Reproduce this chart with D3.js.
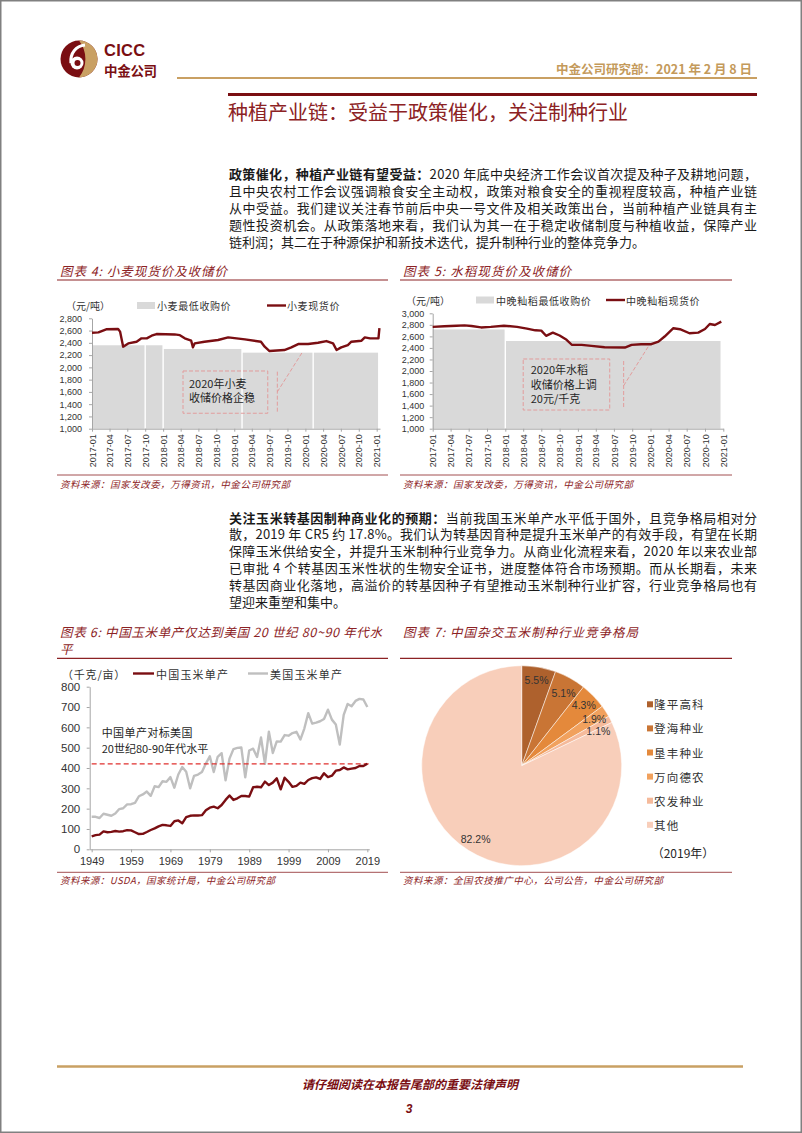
<!DOCTYPE html>
<html><head><meta charset="utf-8">
<script src="https://cdn.jsdelivr.net/npm/d3@7"></script>
<style>html,body{margin:0;padding:0;background:#fff;}svg{display:block;}</style>
</head><body>
<svg id="page" width="802" height="1133"></svg>
<script>
// ---------------- DATA ----------------
const quarterTicks = ["2017-01","2017-04","2017-07","2017-10","2018-01","2018-04","2018-07","2018-10","2019-01","2019-04","2019-07","2019-10","2020-01","2020-04","2020-07","2020-10","2021-01"];
const wheatYTicks = [1000,1200,1400,1600,1800,2000,2200,2400,2600,2800];
const riceYTicks = [1000,1200,1400,1600,1800,2000,2200,2400,2600,2800,3000];

const wheatDates = ["2017-01-01","2017-02-03","2017-03-15","2017-05-15","2017-05-25","2017-06-10","2017-07-06","2017-08-18","2017-09-12","2017-10-09","2017-11-03","2017-11-28","2018-03-01","2018-03-28","2018-04-22","2018-05-25","2018-06-03","2018-06-12","2018-08-01","2018-10-10","2018-12-01","2019-02-25","2019-05-18","2019-06-06","2019-07-01","2019-09-15","2019-10-21","2019-11-25","2020-01-15","2020-03-06","2020-04-18","2020-05-22","2020-06-09","2020-07-03","2020-08-06","2020-08-24","2020-10-15","2020-11-01","2020-11-28","2021-01-10","2021-01-15"];
const wheatSpot = [2565,2570,2621,2626,2583,2337,2391,2418,2473,2473,2516,2543,2537,2525,2473,2435,2326,2391,2418,2446,2489,2456,2418,2337,2266,2283,2326,2380,2380,2402,2429,2391,2283,2326,2364,2418,2435,2489,2473,2473,2640];
const wheatMinStart = ["2017-01-01","2017-10-01","2018-01-01","2019-02-10","2020-02-10"];
const wheatMinEnd   = ["2017-10-01","2018-01-01","2019-02-10","2020-02-10","2021-01-08"];
const wheatMinValue = [2360,2360,2300,2240,2240];

const riceDates = ["2017-01-01","2017-03-01","2017-05-01","2017-06-10","2017-07-15","2017-09-01","2017-10-20","2017-12-25","2018-03-01","2018-04-20","2018-06-01","2018-07-01","2018-07-25","2018-08-28","2018-10-01","2018-11-05","2018-12-01","2019-01-20","2019-03-10","2019-05-15","2019-08-25","2019-09-28","2019-11-15","2020-01-05","2020-02-10","2020-03-12","2020-04-25","2020-05-28","2020-07-15","2020-08-28","2020-10-01","2020-10-25","2020-11-20","2020-12-22"];
const riceSpot = [2765,2775,2785,2790,2780,2755,2765,2785,2765,2735,2705,2700,2610,2665,2615,2540,2455,2452,2435,2412,2406,2452,2464,2464,2510,2597,2741,2724,2654,2666,2728,2815,2797,2855];
const riceMinStart = ["2017-01-01","2018-01-01"];
const riceMinEnd   = ["2018-01-01","2020-12-18"];
const riceMinValue = [2720,2520];

const cornYears = [1949,1950,1951,1952,1953,1954,1955,1956,1957,1958,1959,1960,1961,1962,1963,1964,1965,1966,1967,1968,1969,1970,1971,1972,1973,1974,1975,1976,1977,1978,1979,1980,1981,1982,1983,1984,1985,1986,1987,1988,1989,1990,1991,1992,1993,1994,1995,1996,1997,1998,1999,2000,2001,2002,2003,2004,2005,2006,2007,2008,2009,2010,2011,2012,2013,2014,2015,2016,2017,2018,2019];
const chinaYield = [64,70,72,88,84,86,90,87,89,94,93,84,75,76,85,95,103,113,120,118,115,138,142,128,158,165,167,166,168,192,205,210,202,218,243,265,243,251,262,262,259,305,308,305,333,316,328,349,295,352,332,307,312,328,322,341,350,354,346,374,355,362,387,390,403,393,397,400,410,410,421];
const usYield = [160,160,154,175,170,165,176,198,202,221,222,229,261,270,284,263,310,306,335,332,355,303,368,405,382,300,361,368,380,422,458,380,455,473,339,446,493,499,501,354,486,495,454,550,421,579,474,531,530,562,559,572,578,540,594,670,618,623,630,641,687,638,614,515,661,715,704,730,740,737,700];
const cornXTicks = [1949,1959,1969,1979,1989,1999,2009,2019];
const cornYTicks = [0,100,200,300,400,500,600,700,800];
const benchmarkYield = 420;

const pieLabels = ["隆平高科","登海种业","垦丰种业","万向德农","农发种业","其他"];
const pieValues = [5.5,5.1,4.3,1.9,1.1,82.2];
const pieColors = ["#AE612D","#C97535","#E4893B","#F1A15D","#F5BA9B","#F8CEBA"];

const para1Lead = "政策催化，种植产业链有望受益：";
const para1 = ["2020 年底中央经济工作会议首次提及种子及耕地问题，",
 "且中央农村工作会议强调粮食安全主动权，政策对粮食安全的重视程度较高，种植产业链",
 "从中受益。我们建议关注春节前后中央一号文件及相关政策出台，当前种植产业链具有主",
 "题性投资机会。从政策落地来看，我们认为其一在于稳定收储制度与种植收益，保障产业",
 "链利润；其二在于种源保护和新技术迭代，提升制种行业的整体竞争力。"];
const para2Lead = "关注玉米转基因制种商业化的预期：";
const para2 = ["当前我国玉米单产水平低于国外，且竞争格局相对分",
 "散，2019 年 CR5 约 17.8%。我们认为转基因育种是提升玉米单产的有效手段，有望在长期",
 "保障玉米供给安全，并提升玉米制种行业竞争力。从商业化流程来看，2020 年以来农业部",
 "已审批 4 个转基因玉米性状的生物安全证书，进度整体符合市场预期。而从长期看，未来",
 "转基因商业化落地，高溢价的转基因种子有望推动玉米制种行业扩容，行业竞争格局也有",
 "望迎来重塑和集中。"];

// ---------------- DRAW ----------------
const svg = d3.select("#page");
const CJK = "'Noto Sans CJK SC','Noto Sans',sans-serif";
const NUM = "'Liberation Sans',Arial,sans-serif";
const RED = "#8C2224";
const DARK = "#7A0E12";
const GOLD = "#C9A063";
const parse = d3.timeParse("%Y-%m-%d");
const parseM = d3.timeParse("%Y-%m");

function txt(g, x, y, s, o = {}) {
  const t = g.append("text").attr("x", x).attr("y", y).text(s)
    .attr("font-family", o.ff || CJK).attr("font-size", o.fs || 12)
    .attr("fill", o.fill || "#222").attr("dominant-baseline", "central");
  if (o.anchor) t.attr("text-anchor", o.anchor);
  if (o.fw) t.attr("font-weight", o.fw);
  if (o.italic) t.attr("font-style", "italic");
  if (o.ls != null) t.attr("letter-spacing", o.ls);
  if (o.len) t.attr("textLength", o.len).attr("lengthAdjust", "spacing");
  return t;
}
function hline(g, x1, x2, y, color, w) {
  g.append("line").attr("x1", x1).attr("x2", x2).attr("y1", y).attr("y2", y)
    .attr("stroke", color).attr("stroke-width", w);
}
function styleAxis(a, fs) {
  a.select(".domain").attr("stroke", "#A6A6A6").attr("stroke-width", 1);
  a.selectAll(".tick line").attr("stroke", "#A6A6A6");
  a.selectAll("text").attr("font-family", NUM).attr("font-size", fs).attr("fill", "#333");
}

// page frame
svg.append("rect").attr("x", 0.75).attr("y", 0.75).attr("width", 800.5).attr("height", 1131.5)
  .attr("fill", "#fff").attr("stroke", "#808080").attr("stroke-width", 1.5);

// header logo
const logo = svg.append("g").attr("transform", "translate(79,59)");
logo.append("circle").attr("r", 18.5).attr("fill", DARK);
logo.append("path").attr("d", "M0,-18.5 A18.5,18.5 0 0 1 0,18.5 A30,30 0 0 0 0,-18.5 Z").attr("fill", GOLD);
logo.append("path").attr("d", "M-8,4 C-9,-6 -3,-13 6,-14").attr("fill", "none").attr("stroke", "#fff").attr("stroke-width", 3.2);
logo.append("circle").attr("cx", -2).attr("cy", 4).attr("r", 6.5).attr("fill", "#fff");
logo.append("circle").attr("cx", -1.5).attr("cy", 4).attr("r", 3).attr("fill", DARK);
txt(svg, 104, 49.5, "CICC", {ff: NUM, fs: 16.5, fw: 700, fill: DARK, ls: 0.3});
txt(svg, 104, 69.5, "中金公司", {fs: 13.5, fw: 700, fill: DARK, ls: -0.3});
txt(svg, 752, 68, "中金公司研究部：2021 年 2 月 8 日", {fs: 12.5, fw: 700, fill: "#C49A5B", anchor: "end"});
hline(svg, 177, 757, 78, GOLD, 2);
hline(svg, 228, 757, 94.5, DARK, 3);
txt(svg, 228, 111.5, "种植产业链：受益于政策催化，关注制种行业", {fs: 20, fill: RED});

// paragraphs
function paragraph(lead, lines, y0, step) {
  lines.forEach((ln, i) => {
    const t = svg.append("text").attr("x", 229).attr("y", y0 + i * step)
      .attr("font-family", CJK).attr("font-size", 13).attr("fill", "#1a1a1a")
      .attr("dominant-baseline", "central");
    if (i === 0) t.append("tspan").attr("font-weight", 700).text(lead);
    t.append("tspan").text(ln);
    if (i < lines.length - 1) t.attr("textLength", 528).attr("lengthAdjust", "spacing");
  });
}
paragraph(para1Lead, para1, 173, 16.9);
paragraph(para2Lead, para2, 516.5, 16.9);

// chart frame helper (title, underline, source)
function frame(left, right, titles, titleLens, titleY, lineY, srcLineY, srcY, src, srcLen) {
  const g = svg.append("g");
  titles.forEach((t, i) => txt(g, left + 3, titleY + i * 17, t, {fs: 12.5, fill: RED, italic: true, len: titleLens[i]}));
  hline(g, left, right, lineY, RED, 1.2);
  hline(g, left, right, srcLineY, RED, 0.8);
  txt(g, left + 3, srcY, src, {fs: 9.5, fill: RED, italic: true, len: srcLen});
  return g;
}

// price charts (wheat / rice)
function priceChart(c) {
  const g = frame(c.left, c.right, [c.title], [c.titleLen], 270, 280, 475, 484.3, "资料来源：国家发改委，万得资讯，中金公司研究部", 230);
  const d0 = parse("2017-01-01"), d21 = parse("2021-01-01");
  const xb = d3.scaleTime().domain([d0, d21]).range(c.xr);
  const dEnd = parse(c.axisEnd);
  const x = d3.scaleTime().domain([d0, dEnd]).range([c.xr[0], xb(dEnd)]);
  const y = d3.scaleLinear().domain(c.yd).range(c.yr);
  const segs = c.minStart.map((s, i) => ({s: parse(s), e: parse(c.minEnd[i]), v: c.minValue[i], i}));
  g.selectAll("rect.min").data(segs).join("rect").attr("class", "min")
    .attr("x", d => x(d.s) + (d.i > 0 ? 0.7 : 0))
    .attr("width", d => x(d.e) - x(d.s) - (d.i > 0 ? 0.7 : 0) - (d.i < segs.length - 1 ? 0.7 : 0))
    .attr("y", d => y(d.v)).attr("height", d => y(c.yd[0]) - y(d.v)).attr("fill", "#D9D9D9");
  const ya = g.append("g").attr("transform", `translate(${c.xr[0]},0)`)
    .call(d3.axisLeft(y).tickValues(c.yTicks).tickFormat(d3.format(",")).tickSize(3).tickSizeOuter(0).tickPadding(c.pad));
  styleAxis(ya, 9);
  const xa = g.append("g").attr("transform", `translate(0,${c.yr[0]})`)
    .call(d3.axisBottom(x).tickValues(quarterTicks.map(parseM)).tickFormat(d3.timeFormat("%Y-%m")).tickSize(3).tickSizeOuter(0));
  styleAxis(xa, 9);
  xa.selectAll("text").attr("transform", "rotate(-90)").attr("text-anchor", "end")
    .attr("x", -5.5).attr("y", 0).attr("dy", "0.35em");
  // annotation
  const a = c.ann;
  g.append("rect").attr("x", x(parse(a.box[0]))).attr("y", y(a.box[2]))
    .attr("width", x(parse(a.box[1])) - x(parse(a.box[0]))).attr("height", y(a.box[3]) - y(a.box[2]))
    .attr("fill", "none").attr("stroke", "#E29C9C").attr("stroke-width", 1).attr("stroke-dasharray", "4,2");
  g.append("line").attr("x1", x(parse(a.vline[0]))).attr("x2", x(parse(a.vline[0])))
    .attr("y1", y(a.vline[1])).attr("y2", y(a.vline[2]))
    .attr("stroke", "#E29C9C").attr("stroke-width", 1).attr("stroke-dasharray", "4,2");
  g.append("line").attr("x1", x(parse(a.diag[0]))).attr("y1", y(a.diag[1]))
    .attr("x2", x(parse(a.diag[2]))).attr("y2", y(a.diag[3]))
    .attr("stroke", "#E29C9C").attr("stroke-width", 1).attr("stroke-dasharray", "4,2");
  a.text.forEach((t, i) => txt(g, x(parse(a.box[0])) + a.tx, a.ty + i * a.tstep, t, {fs: 11, fill: "#262626"}));
  // line
  const pts = c.dates.map((d, i) => [parse(d), c.values[i]]);
  g.append("path").datum(pts).attr("fill", "none").attr("stroke", DARK).attr("stroke-width", 2.4)
    .attr("stroke-linejoin", "round")
    .attr("d", d3.line().x(d => x(d[0])).y(d => y(d[1])));
  // legend
  const L = c.leg;
  txt(g, L.unitX, L.y, "（元/吨）", {fs: 10, fill: "#333"});
  g.append("rect").attr("x", L.boxX).attr("y", L.y - 3.5).attr("width", 18).attr("height", 7).attr("fill", "#D9D9D9");
  txt(g, L.boxX + 20, L.y, c.minName, {fs: 10, fill: "#333", ls: 0.6});
  hline(g, L.lineX, L.lineX + 19, L.y, DARK, 2.4);
  txt(g, L.lineX + 20, L.y, c.spotName, {fs: 10, fill: "#333", ls: 0.6});
}

priceChart({
  left: 57, right: 388, title: "图表 4: 小麦现货价及收储价", titleLen: 167,
  xr: [92, 376.7], axisEnd: "2021-01-18", yd: [1000, 2800], yr: [428.7, 318.3], yTicks: wheatYTicks, pad: 7,
  minStart: wheatMinStart, minEnd: wheatMinEnd, minValue: wheatMinValue,
  dates: wheatDates, values: wheatSpot,
  minName: "小麦最低收购价", spotName: "小麦现货价",
  leg: {y: 305.5, unitX: 66, boxX: 137, lineX: 267},
  ann: {box: ["2018-04-13", "2019-06-22", 1941, 1252], vline: ["2019-08-10", 1930, 1278],
        diag: ["2019-08-10", 1600, "2019-12-15", 2240], text: ["2020年小麦", "收储价格企稳"], tx: 6, ty: 382.7, tstep: 14}
});
priceChart({
  left: 400, right: 732, title: "图表 5: 水稻现货价及收储价", titleLen: 168,
  xr: [432.7, 723.3], axisEnd: "2021-01-01", yd: [1000, 3000], yr: [428.7, 313.3], yTicks: riceYTicks, pad: 5.5,
  minStart: riceMinStart, minEnd: riceMinEnd, minValue: riceMinValue,
  dates: riceDates, values: riceSpot,
  minName: "中晚籼稻最低收购价", spotName: "中晚籼稻现货价",
  leg: {y: 300, unitX: 406, boxX: 476, lineX: 606},
  ann: {box: ["2018-04-01", "2019-06-10", 2208, 1324], vline: ["2019-08-19", 2173, 1354],
        diag: ["2019-08-19", 1745, "2019-12-28", 2463], text: ["2020年水稻", "收储价格上调", "20元/千克"], tx: 7.5, ty: 369.3, tstep: 14.5}
});

// chart 6: corn yield
(function () {
  const g = frame(57, 388, ["图表 6: 中国玉米单产仅达到美国 20 世纪 80~90 年代水", "平"], [322, null], 631.7, 658.3, 872.3, 880,
    "资料来源：USDA，国家统计局，中金公司研究部", 215);
  const x = d3.scalePoint().domain(cornYears).range([89.7, 369.3]).padding(0.5);
  const y = d3.scaleLinear().domain([0, 800]).range([849.3, 686.7]);
  const ya = g.append("g").attr("transform", "translate(89.7,0)")
    .call(d3.axisLeft(y).tickValues(cornYTicks).tickSize(3).tickSizeOuter(0).tickPadding(6.5));
  styleAxis(ya, 11.5);
  const xa = g.append("g").attr("transform", "translate(0,849.3)")
    .call(d3.axisBottom(x).tickValues(cornXTicks).tickSize(3).tickSizeOuter(0).tickPadding(5));
  styleAxis(xa, 11);
  const line = d3.line().x((d, i) => x(cornYears[i])).y(d => y(d));
  g.append("path").datum(usYield).attr("fill", "none").attr("stroke", "#BFBFBF").attr("stroke-width", 2.4)
    .attr("stroke-linejoin", "round").attr("d", line);
  g.append("line").attr("x1", x(cornYears[0])).attr("x2", x.range()[1] + 1.5)
    .attr("y1", y(benchmarkYield)).attr("y2", y(benchmarkYield))
    .attr("stroke", "#E0302E").attr("stroke-width", 1.2).attr("stroke-dasharray", "5,3");
  g.append("path").datum(chinaYield).attr("fill", "none").attr("stroke", DARK).attr("stroke-width", 2.4)
    .attr("stroke-linejoin", "round").attr("d", line);
  txt(g, 101.7, 732.3, "中国单产对标美国", {fs: 11, fill: "#262626", ls: 0.4});
  txt(g, 101.7, 747.7, "20世纪80-90年代水平", {fs: 11, fill: "#262626"});
  // legend
  txt(g, 62, 673.5, "（千克/亩）", {fs: 11, fill: "#333", ls: 0.8});
  hline(g, 133, 154, 673.5, DARK, 2.4);
  txt(g, 156, 673.5, "中国玉米单产", {fs: 11, fill: "#333", ls: 1.2});
  hline(g, 248, 268, 673.5, "#BFBFBF", 2.4);
  txt(g, 270, 673.5, "美国玉米单产", {fs: 11, fill: "#333", ls: 1.2});
})();

// chart 7: pie
(function () {
  const g = frame(400, 732, ["图表 7: 中国杂交玉米制种行业竞争格局"], [235], 631.7, 658.3, 872.3, 880,
    "资料来源：全国农技推广中心，公司公告，中金公司研究部", 260);
  const cx = 521.7, cy = 765.7, r = 100;
  const pie = d3.pie().sort(null).value(d => d)(pieValues);
  const arc = d3.arc().innerRadius(0).outerRadius(r);
  const pg = g.append("g").attr("transform", `translate(${cx},${cy})`);
  pg.selectAll("path").data(pie).join("path").attr("d", arc)
    .attr("fill", (d, i) => pieColors[i]).attr("stroke", "#fff").attr("stroke-width", 0.5);
  const lr = 86.5;
  let prevY = -Infinity;
  pie.forEach((d, i) => {
    const a = (d.startAngle + d.endAngle) / 2;
    let lx = Math.sin(a) * lr, ly = -Math.cos(a) * lr;
    if (i < pie.length - 1) { if (ly < prevY + 12.5) ly = prevY + 12.5; prevY = ly; }
    txt(pg, lx, ly, d3.format(".1f")(d.data) + "%", {ff: NUM, fs: 10.5, fill: "#333", anchor: "middle"});
  });
  pieLabels.forEach((t, i) => {
    const yy = 704.3 + i * 24.1;
    g.append("rect").attr("x", 647).attr("y", yy - 3).attr("width", 6).attr("height", 6).attr("fill", pieColors[i]);
    txt(g, 654, yy, t, {fs: 11.5, fill: "#333", ls: 1.2});
  });
  txt(g, 683, 852.7, "（2019年）", {fs: 12, fill: "#262626", anchor: "middle"});
})();

// footer
hline(svg, 57, 743, 1066.6, GOLD, 2.5);
txt(svg, 410, 1083, "请仔细阅读在本报告尾部的重要法律声明", {fs: 12, fw: 700, italic: true, fill: DARK, anchor: "middle"});
txt(svg, 409, 1109, "3", {ff: NUM, fs: 12, fw: 700, italic: true, fill: DARK, anchor: "middle"});
</script>
</body></html>
